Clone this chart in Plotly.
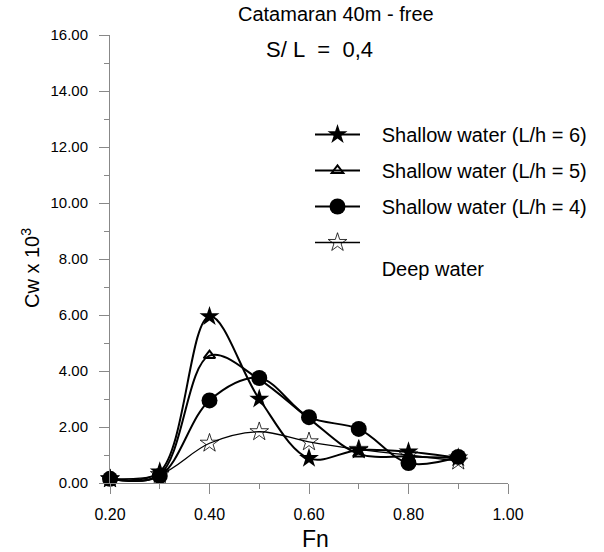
import plotly.graph_objects as go

fn = [0.2, 0.3, 0.4, 0.5, 0.6, 0.7, 0.8, 0.9]
cw_lh6 = [0.15, 0.40, 5.95, 3.00, 0.88, 1.18, 1.12, 0.90]
cw_lh5 = [0.15, 0.30, 4.55, 3.70, 2.30, 1.04, 0.95, 0.90]
cw_lh4 = [0.15, 0.25, 2.95, 3.75, 2.35, 1.93, 0.71, 0.93]
cw_deep = [0.15, 0.30, 1.42, 1.83, 1.47, 1.20, 1.00, 0.78]

NB = "\u00a0"
names = ["Shallow water (L/h = 6)", "Shallow water (L/h = 5)",
         "Shallow water (L/h = 4)", "Deep water"]
x_ticks = [0.2, 0.4, 0.6, 0.8, 1.0]
y_ticks = [0, 2, 4, 6, 8, 10, 12, 14, 16]

FONT = "Liberation Sans, Arial, sans-serif"
PAD = NB * 3

fig = go.Figure()
styles = [
    (cw_lh6, dict(symbol="star", size=15, color="black"), 2),
    (cw_lh5, dict(symbol="triangle-up-open", size=10, color="black", line=dict(width=2)), 2),
    (cw_lh4, dict(symbol="circle", size=16, color="black"), 2),
    (cw_deep, dict(symbol="star-open", size=14, color="black", line=dict(width=0.8)), 1.3),
]
for i, ((ys, mk, lw), nm) in enumerate(zip(styles, names)):
    label = PAD + nm if i < 3 else PAD + NB + "<br>" + PAD + nm
    fig.add_trace(go.Scatter(
        x=fn, y=ys, name=label,
        legendgroup=f"g{i}", mode="lines+markers",
        line=dict(color="black", width=lw, shape="spline", smoothing=1.0),
        marker=mk, cliponaxis=False,
    ))

def px_x(px):
    return (px - 110) / 398

def px_y(py):
    return (483 - py) / 448

fig.update_layout(
    width=604, height=552,
    margin=dict(l=110, r=96, t=35, b=69),
    paper_bgcolor="white", plot_bgcolor="white",
    font=dict(family=FONT, size=15, color="black"),
    showlegend=True,
    legend=dict(x=px_x(310), y=px_y(115), xanchor="left", yanchor="top",
                font=dict(size=20, family=FONT), valign="top",
                itemwidth=45, tracegroupgap=7, bgcolor="rgba(0,0,0,0)",
                borderwidth=0),
)

def label(text, cx, cy, size, angle=0):
    fig.add_annotation(text=text, xref="paper", yref="paper",
                       x=px_x(cx), y=px_y(cy), xanchor="center", yanchor="middle",
                       showarrow=False, textangle=angle,
                       font=dict(size=size, family=FONT))

label("Catamaran 40m - free", 336, 14, 20)
label("S/ L" + NB * 2 + "=" + NB * 2 + "0,4", 319, 49, 22)
label("Cw x 10<sup>3</sup>", 30, 268, 20, -90)
label("Fn", 315, 539, 23)

fig.update_xaxes(range=[0.2, 1.0], tickvals=x_ticks, ticktext=[f"{v:.2f}" for v in x_ticks],
                 showgrid=False, zeroline=False, showline=True, linecolor="#888", linewidth=1,
                 ticks="outside", ticklen=10, tickcolor="#888", ticklabelstandoff=7,
                 tickfont=dict(size=16),
                 minor=dict(ticks="outside", ticklen=5, tickcolor="#888", dtick=0.1, tick0=0.2))
fig.update_yaxes(range=[0, 16], tickvals=y_ticks, ticktext=[f"{v:.2f}" for v in y_ticks],
                 showgrid=False, zeroline=False, showline=True, linecolor="#888", linewidth=1,
                 ticks="outside", ticklen=10, tickcolor="#888", ticklabelstandoff=8,
                 tickfont=dict(size=15),
                 minor=dict(ticks="outside", ticklen=5, tickcolor="#888", dtick=1))

fig.write_html("out.html")
